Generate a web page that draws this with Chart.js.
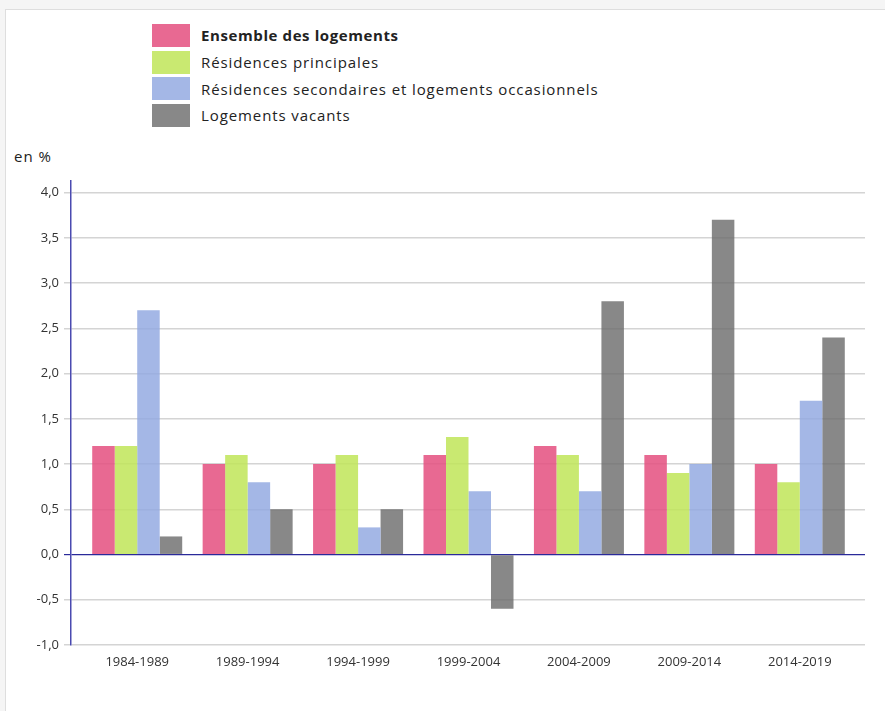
<!DOCTYPE html>
<html lang="fr">
<head>
<meta charset="utf-8">
<script src="https://cdn.jsdelivr.net/npm/chart.js@4/dist/chart.umd.min.js"></script>
<style>
    html, body { margin: 0; padding: 0; background: #f5f5f5; font-family: 'Open Sans', sans-serif; }
    .card { position: absolute; left: 5px; top: 9px; width: 900px; height: 720px; background: #fff; border: 1px solid #dedede; }
    .legend { position: absolute; left: 152px; top: 22px; }
    .legend-row { display: flex; align-items: center; height: 26.7px; font-size: 15px; letter-spacing: 0.9px; color: #222; }
    .legend-box { width: 38px; height: 23px; margin-right: 11px; }
    .legend-row.bold { font-weight: bold; letter-spacing: 0.6px; }
    .unit { position: absolute; left: 14px; top: 146px; font-size: 15px; letter-spacing: 1px; color: #222; }
    #chart-wrap { position: absolute; left: 0; top: 180px; width: 885px; height: 531px; }
</style>
</head>
<body>
<div class="card"></div>
<div class="legend" id="legend"></div>
<div class="unit">en %</div>
<div id="chart-wrap"><canvas id="chart"></canvas></div>

<script>
// --- Data ---
const periods = ['1984-1989', '1989-1994', '1994-1999', '1999-2004', '2004-2009', '2009-2014', '2014-2019'];
const ensemble = [1.2, 1.0, 1.0, 1.1, 1.2, 1.1, 1.0];
const principales = [1.2, 1.1, 1.1, 1.3, 1.1, 0.9, 0.8];
const secondaires = [2.7, 0.8, 0.3, 0.7, 0.7, 1.0, 1.7];
const vacants = [0.2, 0.5, 0.5, -0.6, 2.8, 3.7, 2.4];
const yTicks = [-1.0, -0.5, 0.0, 0.5, 1.0, 1.5, 2.0, 2.5, 3.0, 3.5, 4.0];

const series = [
    { label: 'Ensemble des logements', data: ensemble, color: 'rgba(228, 80, 128, 0.86)', bold: true },
    { label: 'Résidences principales', data: principales, color: 'rgba(192, 229, 90, 0.86)' },
    { label: 'Résidences secondaires et logements occasionnels', data: secondaires, color: 'rgba(146, 168, 225, 0.83)' },
    { label: 'Logements vacants', data: vacants, color: 'rgba(106, 106, 106, 0.8)' }
];

// HTML legend (first entry is bold)
document.getElementById('legend').innerHTML = series.map(s => `
    <div class="legend-row ${s.bold ? 'bold' : ''}">
        <div class="legend-box" style="background:${s.color}"></div>
        <span>${s.label}</span>
    </div>
`).join('');

const fmt = v => v.toFixed(1).replace('.', ',');

// Category axis that leaves a small gap between the plot edges and the first/last group
class InsetCategoryScale extends Chart.CategoryScale {
    configure() {
        super.configure();
        this._startPixel += 11;
        this._endPixel -= 10;
        this._length = this._endPixel - this._startPixel;
    }
}
InsetCategoryScale.id = 'insetCategory';
InsetCategoryScale.defaults = Chart.CategoryScale.defaults;
Chart.register(InsetCategoryScale);

new Chart(document.getElementById('chart'), {
    type: 'bar',
    data: {
        labels: periods,
        datasets: series.map(s => ({
            label: s.label,
            data: s.data,
            backgroundColor: s.color,
            borderWidth: 0,
            barPercentage: 1,
            categoryPercentage: 0.815
        }))
    },
    options: {
        responsive: true,
        maintainAspectRatio: false,
        animation: false,
        layout: { padding: { top: 0, right: 20, left: 0, bottom: 0 } },
        plugins: {
            legend: { display: false },
            tooltip: { enabled: false }
        },
        scales: {
            x: {
                type: 'insetCategory',
                grid: { display: false, drawTicks: false },
                border: { display: false },
                ticks: { color: '#333', font: { family: 'Open Sans', size: 13 }, padding: 9 },
                afterFit: scale => { scale.height = 66; }
            },
            y: {
                min: -1,
                max: 4.14,
                afterBuildTicks: scale => { scale.ticks = yTicks.map(v => ({ value: v })); },
                grid: {
                    color: ctx => (ctx.tick && ctx.tick.value === 0 ? '#2a2a9a' : '#d4d4d4'),
                    lineWidth: ctx => (ctx.tick && ctx.tick.value === 0 ? 1.2 : 1.5),
                    tickLength: 7
                },
                border: { display: true, color: '#4a4ab0', width: 1.5 },
                ticks: {
                    color: '#333',
                    font: { family: 'Open Sans', size: 13 },
                    padding: 5,
                    callback: v => fmt(v)
                },
                afterFit: scale => {
                    scale.width = 71;
                    scale.paddingTop = 0;
                    scale.paddingBottom = 0;
                }
            }
        }
    }
});
</script>
</body>
</html>
